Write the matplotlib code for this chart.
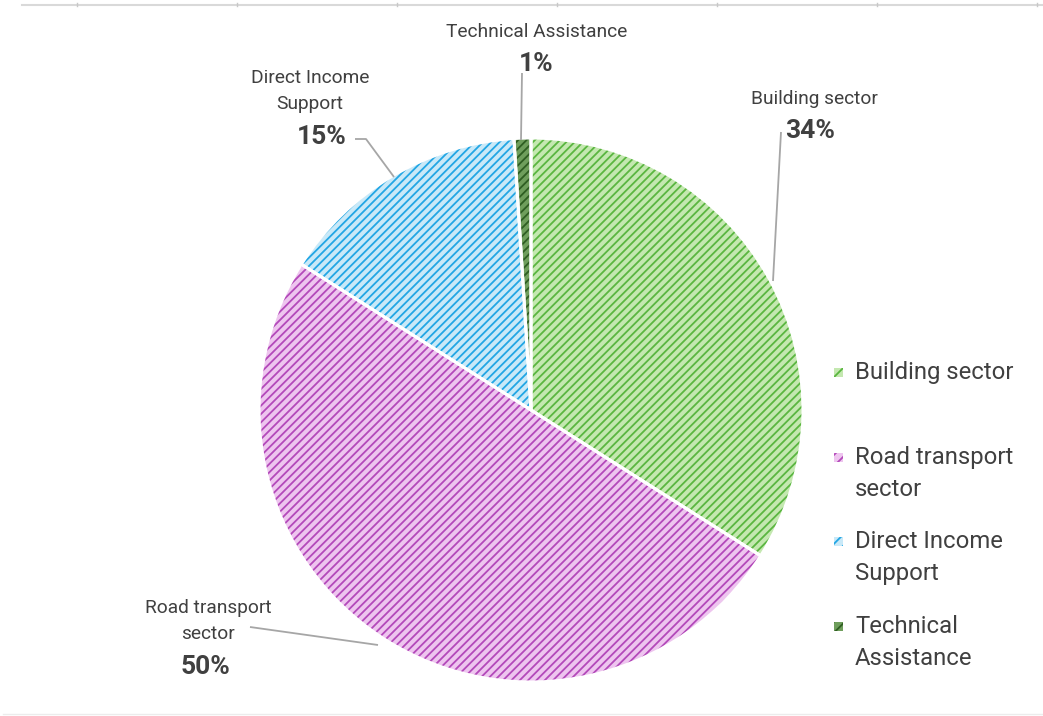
import matplotlib
matplotlib.use('Agg')
import matplotlib.pyplot as plt
from matplotlib.patches import Rectangle

W, H = 1043, 716

categories = ['Building sector', 'Road transport sector', 'Direct Income Support', 'Technical Assistance']
shares = [34, 50, 15, 1]
legend_labels = ['Building sector', 'Road transport\nsector', 'Direct Income\nSupport', 'Technical\nAssistance']
pie_labels = ['Building sector', 'Road transport\nsector', 'Direct Income\nSupport', 'Technical Assistance']

face_colors = ['#c4e8b0', '#eec5ef', '#c9e9f8', '#6f9e5c']
hatch_colors = ['#5ab640', '#b349ba', '#22a6e4', '#2f5e22']

plt.rcParams['font.family'] = ['Roboto', 'DejaVu Sans']
plt.rcParams['hatch.linewidth'] = 1.3
text_col = '#404040'


def py(y):
    # pixel y (from top) -> data y
    return H - y


fig = plt.figure(figsize=(W / 100, H / 100), dpi=100)
ax = fig.add_axes([0, 0, 1, 1])

center = (531, py(410))
radius = 272

# base fill
ax.pie(shares, colors=face_colors, startangle=90, counterclock=False,
       center=center, radius=radius, frame=True,
       wedgeprops=dict(linewidth=0))
# hatch layer
hatched, _ = ax.pie(shares, startangle=90, counterclock=False,
                    center=center, radius=radius, frame=True,
                    wedgeprops=dict(facecolor='none', linewidth=0))
for w, hc in zip(hatched, hatch_colors):
    w.set_edgecolor(hc)
    w.set_hatch('////')
# white separators
ax.pie(shares, startangle=90, counterclock=False,
       center=center, radius=radius, frame=True,
       wedgeprops=dict(facecolor='none', edgecolor='white', linewidth=2.2))

# data labels: (name x, name block centre y, pct x, pct y) in pixels
label_pos = [(814, 99, 810, 131), (208, 621, 205, 667),
             (310, 91, 322, 137), (537, 32, 536, 64)]
for name, s, (nx, ny, px, pyy) in zip(pie_labels, shares, label_pos):
    ax.text(nx, py(ny), name, ha='center', va='center', fontsize=13.8,
            color=text_col, linespacing=1.6)
    ax.text(px, py(pyy), '%d%%' % s, ha='center', va='center', fontsize=19,
            fontweight='bold', color=text_col)

# leader lines
leaders = [([781, 773], [132, 281]),
           ([250, 378], [627, 645]),
           ([355, 366, 394], [139, 139, 177]),
           ([522, 521], [73, 140])]
for xs, ys in leaders:
    ax.plot(xs, [py(v) for v in ys], color='#a6a6a6', lw=1.3,
            solid_capstyle='butt')

# legend
leg_y = [372, 457, 541, 626]
for lab, fc, hc, y in zip(legend_labels, face_colors, hatch_colors, leg_y):
    ax.add_patch(Rectangle((834, py(y) - 4.5), 9, 9, facecolor=fc,
                           edgecolor='none'))
    ax.add_patch(Rectangle((834, py(y) - 4.5), 9, 9, facecolor='none',
                           edgecolor=hc, hatch='///', linewidth=0))
    nlines = lab.count('\n') + 1
    ax.text(855, py(y + 16.5 * (nlines - 1)), lab, ha='left', va='center',
            fontsize=17.2, color=text_col, linespacing=1.48)

# frame lines top / bottom
ax.plot([22, 1043], [py(5), py(5)], color='#d9d9d9', lw=1.5)
for tx in [77, 237, 397, 557, 717, 877, 1037]:
    ax.plot([tx, tx], [py(3), py(6)], color='#c8c8c8', lw=1)
ax.plot([3, 1043], [py(714), py(714)], color='#ececec', lw=1)

ax.set_xlim(0, W)
ax.set_ylim(0, H)
ax.set_aspect('auto')
ax.axis('off')

fig.savefig('out.png', dpi=100)
